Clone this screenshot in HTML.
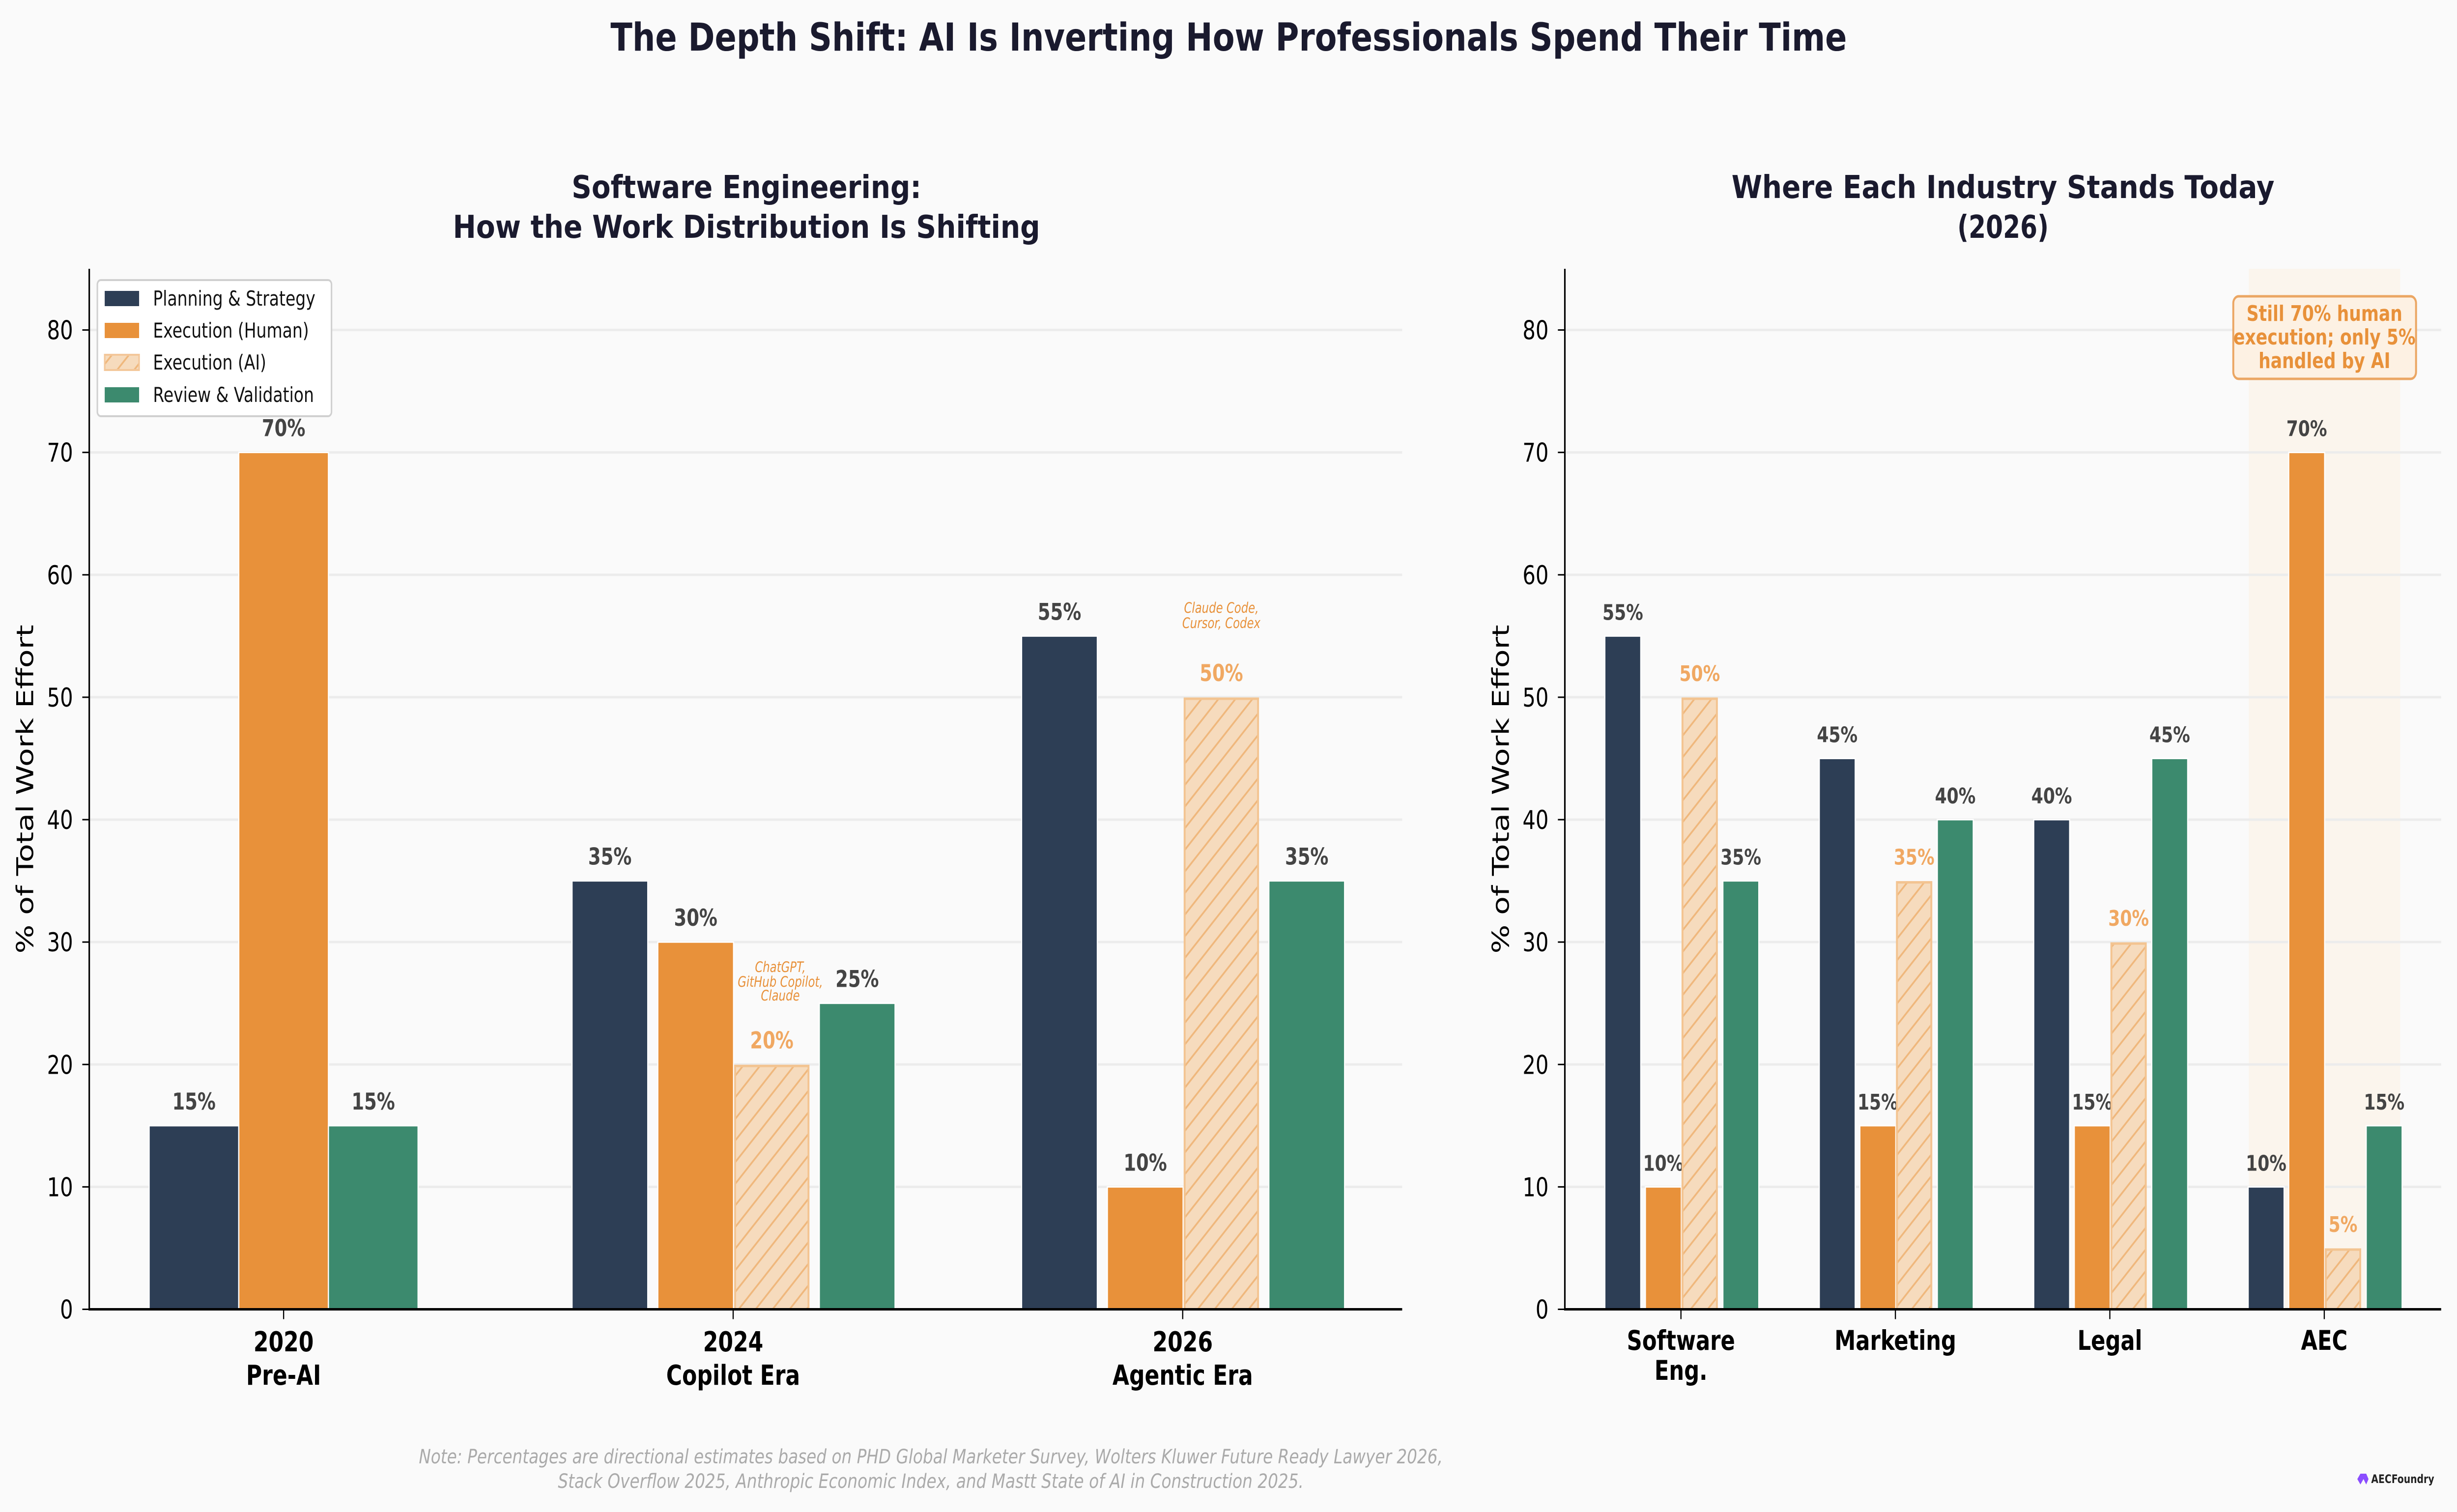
<!DOCTYPE html>
<html><head><meta charset="utf-8">
<meta name="viewport" content="width=6359">
<style>
html,body{margin:0;padding:0;background:#fafafa;width:100%;height:100%;overflow:hidden;}
svg{display:block;width:100vw;height:100vh;}
text{font-family:"DejaVu Sans","Liberation Sans",sans-serif;}
</style></head>
<body>
<svg id="chart" viewBox="0 0 6359 3077" preserveAspectRatio="none" xmlns="http://www.w3.org/2000/svg">
<defs>
<pattern id="hatch" patternUnits="userSpaceOnUse" width="44" height="44">
<rect width="44" height="44" fill="#f6dbbd"/>
<path d="M-11,11 L11,-11 M0,44 L44,0 M33,55 L55,33" stroke="#efb77c" stroke-width="4"/>
</pattern>
</defs>
<rect x="0" y="0" width="6359" height="3077" fill="#fafafa"/>
<text x="3180" y="103" text-anchor="middle" font-size="78" font-weight="bold" fill="#1a1a2e" textLength="3200" lengthAdjust="spacingAndGlyphs">The Depth Shift: AI Is Inverting How Professionals Spend Their Time</text>
<text x="1932" y="403" text-anchor="middle" font-size="64" font-weight="bold" fill="#1a1a2e" textLength="905" lengthAdjust="spacingAndGlyphs">Software Engineering:</text>
<text x="1932" y="484" text-anchor="middle" font-size="64" font-weight="bold" fill="#1a1a2e" textLength="1520" lengthAdjust="spacingAndGlyphs">How the Work Distribution Is Shifting</text>
<text x="5184" y="403" text-anchor="middle" font-size="64" font-weight="bold" fill="#1a1a2e" textLength="1405" lengthAdjust="spacingAndGlyphs">Where Each Industry Stands Today</text>
<text x="5184" y="484" text-anchor="middle" font-size="64" font-weight="bold" fill="#1a1a2e">(2026)</text>
<g id="left"></g>
<g id="right"></g>
<g>
<rect x="252" y="570" width="606" height="277" rx="9" fill="#ffffff" stroke="#d0d0d0" stroke-width="4"/>
<rect x="271" y="592" width="89" height="31" fill="#2d3e55"/>
<text x="396" y="622" font-size="42" fill="#111">Planning &amp; Strategy</text>
<rect x="271" y="657" width="89" height="31" fill="#e8913a"/>
<text x="396" y="687" font-size="42" fill="#111">Execution (Human)</text>
<rect x="271" y="722" width="89" height="31" fill="url(#hatch)" stroke="#f3c79a" stroke-width="4"/>
<text x="396" y="752" font-size="42" fill="#111">Execution (AI)</text>
<rect x="271" y="788" width="89" height="31" fill="#3c8a6e"/>
<text x="396" y="818" font-size="42" fill="#111">Review &amp; Validation</text>
</g>
<text x="2409" y="2978" text-anchor="middle" font-size="40" font-style="italic" fill="#aaaaaa" textLength="2650" lengthAdjust="spacingAndGlyphs">Note: Percentages are directional estimates based on PHD Global Marketer Survey, Wolters Kluwer Future Ready Lawyer 2026,</text>
<text x="2409" y="3028" text-anchor="middle" font-size="40" font-style="italic" fill="#aaaaaa" textLength="1930" lengthAdjust="spacingAndGlyphs">Stack Overflow 2025, Anthropic Economic Index, and Mastt State of AI in Construction 2025.</text>
<g>
<path d="M6101,3010 L6109,2999 L6124,2999 L6130,3010 L6124,3021 L6117,3010 L6109,3021 Z" fill="#8b4dff"/>
<text x="6137" y="3018" font-size="24" font-weight="bold" fill="#222" textLength="163" lengthAdjust="spacingAndGlyphs">AECFoundry</text>
</g>
</svg>
<script>
// ---------- data ----------
const leftCategories = ["2020", "2024", "2026"];
const leftSubLabels = ["Pre-AI", "Copilot Era", "Agentic Era"];
const leftPlanning = [15, 35, 55];
const leftHuman = [70, 30, 10];
const leftAI = [null, 20, 50];
const leftReview = [15, 25, 35];
const rightCategories = ["Software", "Marketing", "Legal", "AEC"];
const rightSubLabels = ["Eng.", "", "", ""];
const rightPlanning = [55, 45, 40, 10];
const rightHuman = [10, 15, 15, 70];
const rightAI = [50, 35, 30, 5];
const rightReview = [35, 40, 45, 15];
const yTicks = [0, 10, 20, 30, 40, 50, 60, 70, 80];
const yMax = 85;

const NS = "http://www.w3.org/2000/svg";
const Y0 = 2664.5, YTOP = 547;
function y(v){ return Y0 - (v / yMax) * (Y0 - YTOP); }
function el(tag, attrs, parent, txt){
  const e = document.createElementNS(NS, tag);
  for (const k in attrs) e.setAttribute(k, attrs[k]);
  if (txt !== undefined) e.textContent = txt;
  parent.appendChild(e);
  return e;
}
const COLORS = {planning:"#2d3e55", human:"#e8913a", review:"#3c8a6e"};

function drawAxes(g, x0, x1, prefix, labelX){
  yTicks.forEach(t => {
    if (t > 0) {
      const gl = el("line", {x1:x0, x2:x1, y1:y(t), y2:y(t), stroke:"#ececec", "stroke-width":5}, g);
      
      
    }
    const tk = el("line", {x1:x0-18, x2:x0, y1:y(t), y2:y(t), stroke:"#000", "stroke-width":3}, g);
    
    
    const tl = el("text", {x:x0-42, y:y(t)+19, "text-anchor":"end", "font-size":53, fill:"#000"}, g, String(t));
    
    
  });
  const yl = el("text", {x:labelX, y:1606, "text-anchor":"middle", "font-size":60, fill:"#000",
    transform:"rotate(-90 " + labelX + " 1606)", textLength:669, lengthAdjust:"spacingAndGlyphs"}, g, "% of Total Work Effort");
  
  
}
function drawSpines(g, x0, x1, prefix){
  const sl = el("line", {x1:x0, x2:x0, y1:YTOP, y2:Y0+2, stroke:"#000", "stroke-width":4}, g);
  
  
  const sb = el("line", {x1:x0-2, x2:x1, y1:Y0, y2:Y0, stroke:"#000", "stroke-width":5}, g);
  
  
}
function bar(g, cx, w, v, kind, name, fs){
  if (v === null || v === undefined) return;
  const top = y(v);
  if (kind === "ai") {
    const r = el("rect", {x:cx-w/2+3, y:top+3, width:w-6, height:Y0-top-3, fill:"url(#hatch)", stroke:"#f3c491", "stroke-width":5}, g);
    
    
  } else {
    const r = el("rect", {x:cx-w/2, y:top, width:w, height:Y0-top, fill:COLORS[kind], stroke:"#ffffff", "stroke-width":3}, g);
    
    
  }
  const t = el("text", {x:cx, y:top-33, "text-anchor":"middle", "font-size":fs, "font-weight":"bold",
    fill: kind === "ai" ? "#f0a862" : "#444444"}, g, v + "%");
  
  
}

// ---------- left chart ----------
(function(){
  const g = document.getElementById("left");
  const x0 = 231, x1 = 3629;
  const xc = i => 734 + i * 1163.5;
  drawAxes(g, x0, x1, "left", 86);
  leftCategories.forEach((c, i) => {
    const cx = xc(i);
    if (leftAI[i] === null) {
      bar(g, cx-232, 232, leftPlanning[i], "planning", "bar-planning-" + c, 47);
      bar(g, cx, 232, leftHuman[i], "human", "bar-human-" + c, 47);
      bar(g, cx+232, 232, leftReview[i], "review", "bar-review-" + c, 47);
    } else {
      bar(g, cx-319, 196, leftPlanning[i], "planning", "bar-planning-" + c, 47);
      bar(g, cx-97, 196, leftHuman[i], "human", "bar-human-" + c, 47);
      bar(g, cx+100, 196, leftAI[i], "ai", "bar-ai-" + c, 47);
      bar(g, cx+321, 196, leftReview[i], "review", "bar-review-" + c, 47);
    }
    const tk = el("line", {x1:cx, x2:cx, y1:Y0, y2:Y0+20, stroke:"#000", "stroke-width":3}, g);
    
    
    const l1 = el("text", {x:cx, y:2750, "text-anchor":"middle", "font-size":56, "font-weight":"bold", fill:"#000"}, g, c);
    
    
    const l2 = el("text", {x:cx, y:2818, "text-anchor":"middle", "font-size":56, "font-weight":"bold", fill:"#000"}, g, leftSubLabels[i]);
    
    
  });
  const a1 = [["ChatGPT,", 1978], ["GitHub Copilot,", 2008], ["Claude", 2036]];
  a1.forEach((a, k) => {
    const t = el("text", {x:xc(1)+122, y:a[1], "text-anchor":"middle", "font-size":29, "font-style":"italic", fill:"#e8913a"}, g, a[0]);
    
    
  });
  const a2 = [["Claude Code,", 1247], ["Cursor, Codex", 1278]];
  a2.forEach((a, k) => {
    const t = el("text", {x:xc(2)+100, y:a[1], "text-anchor":"middle", "font-size":29, "font-style":"italic", fill:"#e8913a"}, g, a[0]);
    
    
  });
  drawSpines(g, x0, x1, "left");
})();

// ---------- right chart ----------
(function(){
  const g = document.getElementById("right");
  const x0 = 4050, x1 = 6318;
  const xc = i => 4350.5 + i * 555;
  const hl = el("rect", {x:5820, y:YTOP, width:392, height:Y0-YTOP, fill:"#fbf4ea", opacity:0.8}, g);
  
  
  drawAxes(g, x0, x1, "right", 3905);
  rightCategories.forEach((c, i) => {
    const cx = xc(i);
    bar(g, cx-150.5, 93, rightPlanning[i], "planning", "bar-planning-" + c, 44);
    bar(g, cx-45.5, 93, rightHuman[i], "human", "bar-human-" + c, 44);
    bar(g, cx+48.5, 95, rightAI[i], "ai", "bar-ai-" + c, 44);
    bar(g, cx+155, 93, rightReview[i], "review", "bar-review-" + c, 44);
    const tk = el("line", {x1:cx, x2:cx, y1:Y0, y2:Y0+20, stroke:"#000", "stroke-width":3}, g);
    
    
    const l1 = el("text", {x:cx, y:2747, "text-anchor":"middle", "font-size":55, "font-weight":"bold", fill:"#000"}, g, c);
    
    
    if (rightSubLabels[i]) {
      const l2 = el("text", {x:cx, y:2808, "text-anchor":"middle", "font-size":55, "font-weight":"bold", fill:"#000"}, g, rightSubLabels[i]);
      
      
    }
  });
  drawSpines(g, x0, x1, "right");
  const box = el("rect", {x:5780, y:603, width:473, height:168, rx:14, fill:"#fdf1e3", stroke:"#eba663", "stroke-width":5}, g);
  
  
  [["Still 70% human", 653], ["execution; only 5%", 701], ["handled by AI", 749]].forEach((a, k) => {
    const t = el("text", {x:6016, y:a[1], "text-anchor":"middle", "font-size":44, "font-weight":"bold", fill:"#e8913a"}, g, a[0]);
    
    
  });
})();
</script>
</body></html>
